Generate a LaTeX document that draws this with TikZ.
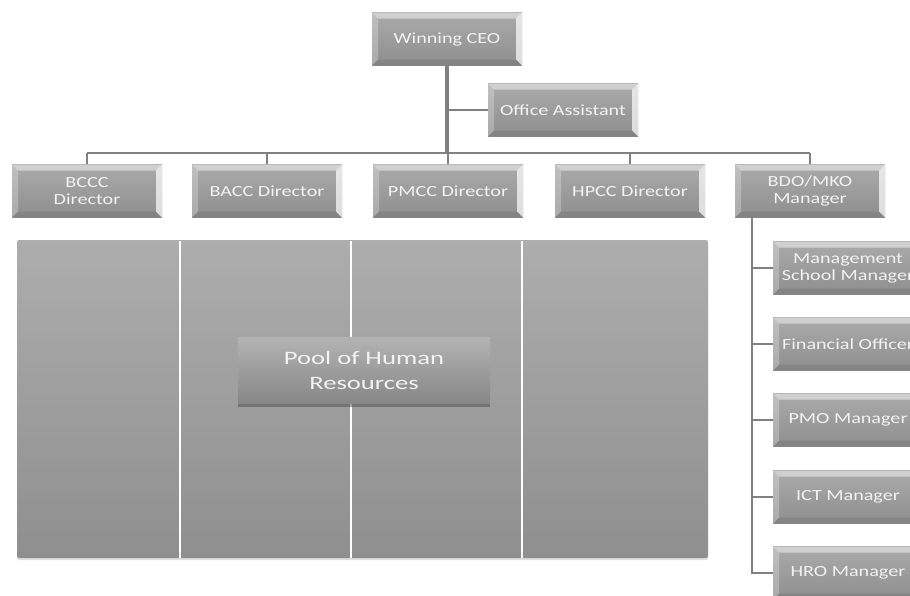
\documentclass[tikz,border=0pt]{standalone}
\usepackage{fontspec}
\setmainfont{Carlito}
\newfontfamily\boxfont[FakeStretch=1.3]{Carlito}
\newfontfamily\poolfont[FakeStretch=1.4]{Carlito}
\usetikzlibrary{calc}
\usetikzlibrary{shadows}
\usetikzlibrary{positioning}
\definecolor{boxtop}{HTML}{ABABAB}
\definecolor{boxbot}{HTML}{8E8E8E}
\definecolor{paneltop}{HTML}{ADADAD}
\definecolor{panelbot}{HTML}{8F8F8F}
\definecolor{linegray}{HTML}{808080}
\definecolor{labelgray}{HTML}{F2F2F2}
\tikzset{
    %Define style for bevelled boxes
    post/.style={
           rectangle,
           minimum width=150pt,
           minimum height=53pt,
           inner sep=0pt,
           top color=boxtop, bottom color=boxbot,
           text=labelgray,
           font=\boxfont\fontsize{15.5}{17}\selectfont,
           align=center,
           path picture={
             \coordinate (nw) at (path picture bounding box.north west);
             \coordinate (ne) at (path picture bounding box.north east);
             \coordinate (sw) at (path picture bounding box.south west);
             \coordinate (se) at (path picture bounding box.south east);
             \fill[white,opacity=.45] (nw) -- (ne) -- ($(ne)+(-6pt,-6pt)$)
                 -- ($(nw)+(6pt,-6pt)$) -- cycle;
             \fill[white,opacity=.25] (nw) -- ($(nw)+(6pt,-6pt)$)
                 -- ($(sw)+(6pt,6pt)$) -- (sw) -- cycle;
             \fill[white,opacity=.7] (ne) -- ($(ne)+(-6pt,-6pt)$)
                 -- ($(se)+(-6pt,6pt)$) -- (se) -- cycle;
             \fill[black,opacity=.08] (sw) -- ($(sw)+(6pt,6pt)$)
                 -- ($(se)+(-6pt,6pt)$) -- (se) -- cycle;}},
    %Define style for the pool box
    pool/.style={
           rectangle,
           minimum width=252pt,
           minimum height=66pt,
           top color=boxtop!90!white, bottom color=boxbot!95!black,
           text=labelgray,
           font=\poolfont\fontsize{19}{25}\selectfont,
           align=center,
           drop shadow={opacity=.5,fill=black!70,shadow xshift=0pt,shadow yshift=-4pt}},
    % Define connector style
    link/.style={
           draw=linegray,
           line width=2.5pt},
}
\begin{document}
\begin{tikzpicture}[x=1pt,y=-1pt]
\path[use as bounding box,clip] (0,0) rectangle (910,595);
\newcommand{\diry}{191}
\newcommand{\sidex}{848}

% Spitze
\node[post] (ceo) at (447,39) {Winning CEO};
\node[post] (assist) at (563,110) {Office Assistant};

% Directors
\foreach \nm/\x/\txt in {bccc/87/{BCCC\\Director},
                         bacc/267/{BACC Director},
                         pmcc/448/{PMCC Director},
                         hpcc/630/{HPCC Director},
                         bdo/810/{BDO/MKO\\Manager}}
    \node[post] (\nm) at (\x,\diry) {\txt};

% Managers under BDO/MKO
\foreach \nm/\y/\txt in {msm/268/{Management\\School Manager},
                         fin/344/{Financial Officer},
                         pmo/420/{PMO Manager},
                         ict/497/{ICT Manager},
                         hro/573/{HRO Manager}}
    \node[post] (\nm) at (\sidex,\y) {\txt};

% Lines
\coordinate (bus) at (0,153);
\coordinate (trunk) at ($(bdo.south west)+(17pt,0)$);
\draw[link,line width=3.5pt] (ceo.south) -- (ceo.south |- bus);
\draw[link] (assist.west) -- (assist.west -| ceo.south);
\draw[link] (bccc.north |- bus) -- (bdo.north |- bus);
\foreach \nm in {bccc,bacc,pmcc,hpcc,bdo}
    \draw[link] (\nm.north) -- (\nm.north |- bus);
\draw[link] (trunk) |- (hro.west);
\foreach \nm in {msm,fin,pmo,ict}
    \draw[link] (\nm.west) -- (\nm.west -| trunk);

% Panel
\shade[top color=paneltop, bottom color=panelbot, rounded corners=2pt,
       drop shadow={opacity=.25,shadow xshift=0pt,shadow yshift=-2pt}]
    (17,240) rectangle (708,558);
\foreach \x in {180,351,522}
    \draw[white,line width=2.5pt] (\x,241) -- (\x,558);

\node[pool] (hr) at (364,370) {Pool of Human\\Resources};
\end{tikzpicture}
\end{document}
